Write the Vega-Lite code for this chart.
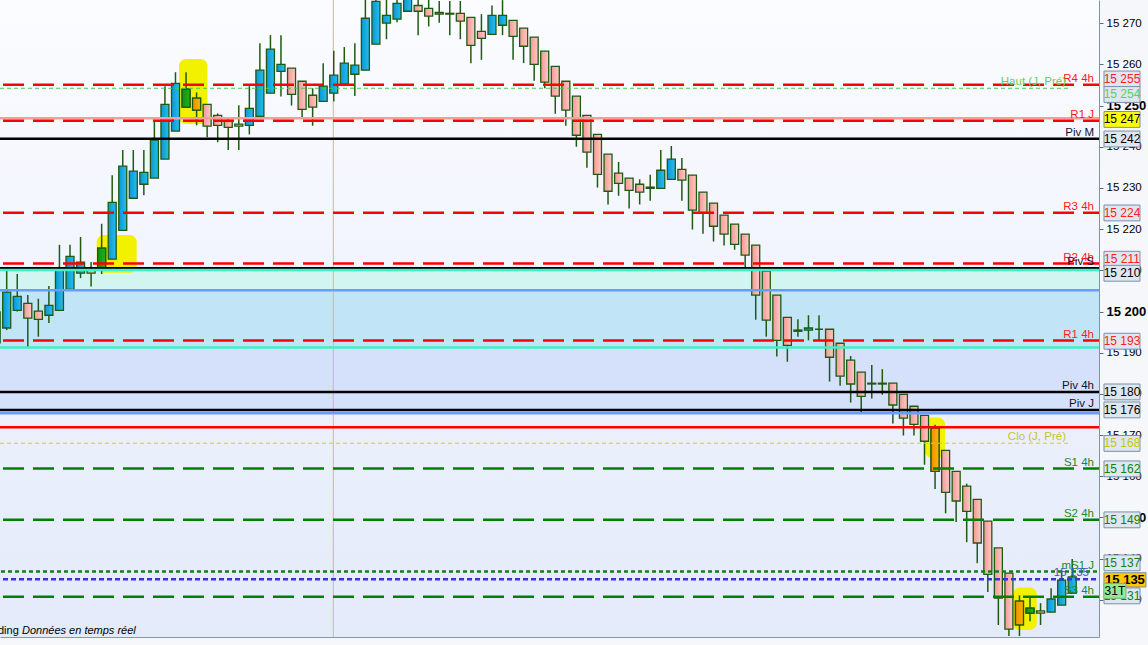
{
  "$schema": "https://vega.github.io/schema/vega-lite/v6.json",
  "description": "Intraday candlestick chart with pivot, resistance and support levels.",
  "width": 1099,
  "height": 637,
  "autosize": "none",
  "padding": {"left": 0, "top": 0, "right": 49, "bottom": 8},
  "background": "#f5f7fb",
  "view": {
    "stroke": null,
    "fill": {"gradient": "linear", "x1": 0, "y1": 0, "x2": 0, "y2": 1,
      "stops": [{"offset": 0, "color": "#fbfcff"}, {"offset": 0.45, "color": "#f1f4fd"}, {"offset": 1, "color": "#e3eafa"}]}
  },
  "config": {
    "font": "Liberation Sans",
    "text": {"font": "Liberation Sans"},
    "axis": {"labelFont": "Liberation Sans"}
  },
  "datasets": {
    "candles": [
      {"i": -1, "o": 15192.4, "h": 15201.6, "l": 15191.2, "c": 15199.9},
      {"i": 0, "o": 15196.0, "h": 15209.9, "l": 15195.5, "c": 15204.7},
      {"i": 1, "o": 15200.3, "h": 15209.1, "l": 15200.0, "c": 15203.7},
      {"i": 2, "o": 15202.0, "h": 15204.0, "l": 15191.2, "c": 15198.4},
      {"i": 3, "o": 15200.1, "h": 15203.1, "l": 15193.9, "c": 15198.1},
      {"i": 4, "o": 15199.1, "h": 15206.2, "l": 15197.2, "c": 15201.5},
      {"i": 5, "o": 15200.3, "h": 15216.2, "l": 15200.1, "c": 15210.5},
      {"i": 6, "o": 15205.4, "h": 15216.2, "l": 15205.4, "c": 15213.4},
      {"i": 7, "o": 15209.3, "h": 15218.1, "l": 15208.1, "c": 15212.0},
      {"i": 8, "o": 15210.5, "h": 15212.0, "l": 15206.1, "c": 15209.3},
      {"i": 9, "o": 15210.3, "h": 15221.3, "l": 15209.1, "c": 15215.4},
      {"i": 10, "o": 15212.7, "h": 15233.1, "l": 15212.7, "c": 15226.5},
      {"i": 11, "o": 15219.7, "h": 15239.2, "l": 15219.7, "c": 15235.3},
      {"i": 12, "o": 15227.5, "h": 15239.2, "l": 15227.5, "c": 15234.1},
      {"i": 13, "o": 15230.9, "h": 15239.2, "l": 15228.2, "c": 15233.8},
      {"i": 14, "o": 15232.4, "h": 15246.0, "l": 15232.4, "c": 15241.6},
      {"i": 15, "o": 15237.0, "h": 15254.7, "l": 15237.0, "c": 15250.3},
      {"i": 16, "o": 15243.8, "h": 15258.1, "l": 15243.8, "c": 15255.4},
      {"i": 17, "o": 15249.6, "h": 15258.1, "l": 15249.6, "c": 15254.0},
      {"i": 18, "o": 15251.8, "h": 15253.2, "l": 15245.2, "c": 15248.9},
      {"i": 19, "o": 15250.3, "h": 15250.3, "l": 15242.3, "c": 15245.0},
      {"i": 20, "o": 15247.6, "h": 15248.1, "l": 15241.1, "c": 15245.2},
      {"i": 21, "o": 15246.4, "h": 15247.2, "l": 15239.2, "c": 15244.7},
      {"i": 22, "o": 15245.5, "h": 15250.1, "l": 15239.2, "c": 15245.0},
      {"i": 23, "o": 15245.2, "h": 15254.7, "l": 15243.0, "c": 15249.3},
      {"i": 24, "o": 15247.4, "h": 15265.1, "l": 15247.4, "c": 15258.6},
      {"i": 25, "o": 15253.0, "h": 15267.1, "l": 15253.0, "c": 15263.7},
      {"i": 26, "o": 15258.3, "h": 15267.1, "l": 15252.2, "c": 15260.0},
      {"i": 27, "o": 15259.1, "h": 15259.1, "l": 15250.0, "c": 15252.7},
      {"i": 28, "o": 15255.9, "h": 15255.9, "l": 15247.1, "c": 15249.1},
      {"i": 29, "o": 15252.5, "h": 15254.2, "l": 15245.1, "c": 15249.6},
      {"i": 30, "o": 15251.0, "h": 15260.3, "l": 15251.0, "c": 15254.7},
      {"i": 31, "o": 15253.0, "h": 15263.3, "l": 15251.0, "c": 15257.4},
      {"i": 32, "o": 15255.2, "h": 15264.2, "l": 15255.2, "c": 15260.3},
      {"i": 33, "o": 15257.6, "h": 15265.1, "l": 15252.3, "c": 15259.8},
      {"i": 34, "o": 15258.6, "h": 15276.5, "l": 15258.6, "c": 15271.2},
      {"i": 35, "o": 15264.9, "h": 15277.0, "l": 15264.9, "c": 15275.3},
      {"i": 36, "o": 15270.0, "h": 15276.5, "l": 15266.1, "c": 15271.9},
      {"i": 37, "o": 15271.0, "h": 15277.0, "l": 15270.2, "c": 15274.8},
      {"i": 38, "o": 15272.9, "h": 15278.0, "l": 15272.9, "c": 15276.1},
      {"i": 39, "o": 15274.3, "h": 15276.5, "l": 15267.1, "c": 15272.9},
      {"i": 40, "o": 15273.6, "h": 15276.0, "l": 15269.2, "c": 15271.7},
      {"i": 41, "o": 15272.6, "h": 15275.4, "l": 15270.1, "c": 15272.2},
      {"i": 42, "o": 15272.4, "h": 15275.4, "l": 15267.1, "c": 15272.2},
      {"i": 43, "o": 15272.4, "h": 15275.4, "l": 15266.1, "c": 15270.5},
      {"i": 44, "o": 15271.4, "h": 15271.4, "l": 15260.3, "c": 15264.6},
      {"i": 45, "o": 15268.0, "h": 15272.2, "l": 15261.1, "c": 15266.3},
      {"i": 46, "o": 15267.3, "h": 15274.3, "l": 15267.3, "c": 15271.9},
      {"i": 47, "o": 15269.5, "h": 15275.6, "l": 15267.1, "c": 15271.9},
      {"i": 48, "o": 15270.7, "h": 15270.7, "l": 15261.1, "c": 15266.8},
      {"i": 49, "o": 15268.8, "h": 15268.8, "l": 15260.3, "c": 15264.4},
      {"i": 50, "o": 15266.6, "h": 15266.6, "l": 15256.0, "c": 15260.0},
      {"i": 51, "o": 15263.2, "h": 15263.2, "l": 15254.2, "c": 15255.7},
      {"i": 52, "o": 15259.5, "h": 15259.5, "l": 15248.0, "c": 15252.3},
      {"i": 53, "o": 15255.9, "h": 15255.9, "l": 15245.1, "c": 15248.9},
      {"i": 54, "o": 15252.3, "h": 15252.3, "l": 15240.0, "c": 15242.8},
      {"i": 55, "o": 15247.6, "h": 15247.6, "l": 15234.9, "c": 15238.7},
      {"i": 56, "o": 15243.0, "h": 15243.0, "l": 15230.1, "c": 15233.3},
      {"i": 57, "o": 15238.2, "h": 15238.2, "l": 15226.0, "c": 15229.2},
      {"i": 58, "o": 15233.6, "h": 15236.3, "l": 15228.1, "c": 15231.1},
      {"i": 59, "o": 15232.4, "h": 15232.4, "l": 15225.0, "c": 15229.4},
      {"i": 60, "o": 15230.9, "h": 15232.1, "l": 15226.0, "c": 15229.0},
      {"i": 61, "o": 15230.2, "h": 15233.2, "l": 15226.9, "c": 15229.9},
      {"i": 62, "o": 15229.9, "h": 15239.2, "l": 15229.9, "c": 15234.3},
      {"i": 63, "o": 15232.1, "h": 15240.2, "l": 15232.1, "c": 15237.0},
      {"i": 64, "o": 15234.5, "h": 15237.3, "l": 15226.9, "c": 15231.9},
      {"i": 65, "o": 15233.1, "h": 15233.1, "l": 15219.9, "c": 15224.6},
      {"i": 66, "o": 15229.0, "h": 15229.0, "l": 15218.9, "c": 15223.9},
      {"i": 67, "o": 15226.3, "h": 15226.3, "l": 15217.0, "c": 15220.7},
      {"i": 68, "o": 15223.4, "h": 15223.4, "l": 15216.0, "c": 15218.8},
      {"i": 69, "o": 15221.2, "h": 15221.2, "l": 15215.0, "c": 15216.3},
      {"i": 70, "o": 15218.8, "h": 15218.8, "l": 15210.2, "c": 15213.7},
      {"i": 71, "o": 15216.1, "h": 15216.1, "l": 15198.0, "c": 15204.0},
      {"i": 72, "o": 15209.8, "h": 15209.8, "l": 15193.9, "c": 15197.9},
      {"i": 73, "o": 15204.0, "h": 15204.0, "l": 15189.1, "c": 15193.0},
      {"i": 74, "o": 15198.6, "h": 15198.6, "l": 15187.8, "c": 15191.8},
      {"i": 75, "o": 15195.5, "h": 15198.1, "l": 15193.9, "c": 15195.2},
      {"i": 76, "o": 15195.5, "h": 15199.1, "l": 15193.0, "c": 15196.0},
      {"i": 77, "o": 15195.7, "h": 15199.1, "l": 15193.0, "c": 15195.7},
      {"i": 78, "o": 15195.7, "h": 15195.7, "l": 15183.0, "c": 15188.9},
      {"i": 79, "o": 15192.3, "h": 15192.3, "l": 15182.0, "c": 15184.3},
      {"i": 80, "o": 15188.2, "h": 15189.2, "l": 15177.9, "c": 15182.4},
      {"i": 81, "o": 15185.3, "h": 15185.3, "l": 15175.3, "c": 15179.4},
      {"i": 82, "o": 15182.6, "h": 15187.0, "l": 15178.9, "c": 15182.4},
      {"i": 83, "o": 15182.6, "h": 15186.0, "l": 15179.8, "c": 15182.4},
      {"i": 84, "o": 15182.6, "h": 15182.6, "l": 15172.8, "c": 15177.3},
      {"i": 85, "o": 15179.9, "h": 15179.9, "l": 15169.9, "c": 15174.1},
      {"i": 86, "o": 15177.0, "h": 15177.0, "l": 15169.9, "c": 15172.6},
      {"i": 87, "o": 15174.8, "h": 15174.8, "l": 15162.8, "c": 15168.5},
      {"i": 88, "o": 15171.7, "h": 15172.5, "l": 15156.9, "c": 15161.2},
      {"i": 89, "o": 15166.3, "h": 15166.3, "l": 15151.0, "c": 15156.1},
      {"i": 90, "o": 15161.2, "h": 15161.2, "l": 15148.9, "c": 15154.0},
      {"i": 91, "o": 15157.6, "h": 15158.2, "l": 15144.0, "c": 15151.5},
      {"i": 92, "o": 15154.4, "h": 15154.4, "l": 15138.9, "c": 15143.8},
      {"i": 93, "o": 15149.1, "h": 15149.1, "l": 15131.9, "c": 15136.2},
      {"i": 94, "o": 15142.6, "h": 15142.6, "l": 15123.9, "c": 15130.4},
      {"i": 95, "o": 15136.5, "h": 15136.5, "l": 15121.2, "c": 15122.9},
      {"i": 96, "o": 15129.7, "h": 15131.1, "l": 15121.2, "c": 15123.9},
      {"i": 97, "o": 15126.8, "h": 15130.7, "l": 15124.8, "c": 15128.0},
      {"i": 98, "o": 15127.3, "h": 15129.2, "l": 15123.9, "c": 15126.8},
      {"i": 99, "o": 15127.0, "h": 15132.8, "l": 15127.0, "c": 15130.2},
      {"i": 100, "o": 15128.7, "h": 15137.2, "l": 15128.7, "c": 15134.8},
      {"i": 101, "o": 15131.6, "h": 15139.9, "l": 15131.6, "c": 15135.6}
    ],
    "levels": [
      {"v": 15255.07, "kind": "R", "label": "R4 4h"},
      {"v": 15254.2, "kind": "Haut", "label": "Haut (J, Pré)"},
      {"v": 15246.92, "kind": "pink", "label": ""},
      {"v": 15246.33, "kind": "R", "label": "R1 J"},
      {"v": 15241.96, "kind": "Piv", "label": "Piv M"},
      {"v": 15224.0, "kind": "R", "label": "R3 4h"},
      {"v": 15211.63, "kind": "R", "label": "R2 4h"},
      {"v": 15210.51, "kind": "Piv", "label": "Piv S"},
      {"v": 15210.1, "kind": "cyan", "label": ""},
      {"v": 15205.17, "kind": "blue", "label": ""},
      {"v": 15192.94, "kind": "R", "label": "R1 4h"},
      {"v": 15191.24, "kind": "cyan", "label": ""},
      {"v": 15180.48, "kind": "Piv", "label": "Piv 4h"},
      {"v": 15176.12, "kind": "Piv", "label": "Piv J"},
      {"v": 15175.31, "kind": "blue", "label": ""},
      {"v": 15171.92, "kind": "thick", "label": ""},
      {"v": 15168.03, "kind": "Clo", "label": "Clo (J, Pré)"},
      {"v": 15161.87, "kind": "S", "label": "S1 4h"},
      {"v": 15149.42, "kind": "S", "label": "S2 4h"},
      {"v": 15136.87, "kind": "mS", "label": "mS1 J"},
      {"v": 15135.02, "kind": "cur", "label": "15 135"},
      {"v": 15130.73, "kind": "S", "label": "S3 4h"}
    ],
    "zones": [
      {"top": 15210.1, "bot": 15205.17, "kind": "teal"},
      {"top": 15205.17, "bot": 15191.24, "kind": "blue"},
      {"top": 15191.24, "bot": 15175.31, "kind": "lav"}
    ],
    "spots": [
      {"a": 16.33, "b": 19.03, "top": 15261.3, "bot": 15245.5},
      {"a": 8.53, "b": 12.32, "top": 15218.6, "bot": 15209.4},
      {"a": 87.04, "b": 88.94, "top": 15174.3, "bot": 15164.5},
      {"a": 95.36, "b": 97.64, "top": 15133.0, "bot": 15122.7}
    ],
    "tags": [
      {"t": "15 255", "at": 15256.46, "kind": "R"},
      {"t": "15 254", "at": 15252.69, "kind": "Haut"},
      {"t": "15 247", "at": 15246.63, "kind": "R1J"},
      {"t": "15 242", "at": 15241.89, "kind": "Piv"},
      {"t": "15 224", "at": 15223.93, "kind": "R"},
      {"t": "15 211", "at": 15212.69, "kind": "R"},
      {"t": "15 210", "at": 15209.29, "kind": "Piv"},
      {"t": "15 193", "at": 15192.79, "kind": "R"},
      {"t": "15 180", "at": 15180.48, "kind": "Piv"},
      {"t": "15 176", "at": 15176.12, "kind": "Piv"},
      {"t": "15 168", "at": 15167.98, "kind": "Clo"},
      {"t": "15 162", "at": 15161.8, "kind": "S"},
      {"t": "15 149", "at": 15149.42, "kind": "S"},
      {"t": "15 137", "at": 15138.98, "kind": "S"},
      {"t": "15 131", "at": 15130.97, "kind": "S"},
      {"t": "15 135", "at": 15134.85, "kind": "cur"},
      {"t": "31T", "at": 15132.18, "kind": "T"}
    ]
  },
  "layer": [
    {
      "data": {"name": "zones"},
      "mark": {"type": "rect"},
      "encoding": {
        "y": {"field": "top", "type": "quantitative",
          "scale": {"domain": [15120.98, 15275.63], "nice": false, "zero": false, "padding": 0},
          "axis": {"orient": "right", "title": null, "grid": false,
            "values": [15130, 15140, 15150, 15160, 15170, 15180, 15190, 15200, 15210, 15220, 15230, 15240, 15250, 15260, 15270],
            "labelExpr": "replace(format(datum.value, ','), ',', ' ')",
            "labelFontSize": {"expr": "datum.value % 50 === 0 ? 13 : 11.5"},
            "labelFontWeight": {"expr": "datum.value % 50 === 0 ? 'bold' : 'normal'"},
            "labelColor": "#000000", "labelPadding": 3, "tickSize": 4,
            "tickColor": "#5a6a7a", "domainColor": "#8094a8", "domainWidth": 1}},
        "y2": {"field": "bot"},
        "fill": {"field": "kind", "type": "nominal", "legend": null,
          "scale": {"domain": ["teal", "blue", "lav"], "range": ["#d3f5f1", "#c1e5f6", "#d5e1fb"]}}
      }
    },
    {
      "data": {"values": [{}]},
      "mark": {"type": "rule", "color": "#f2a4a4", "strokeWidth": 1},
      "encoding": {"x": {"datum": 30.96, "type": "quantitative"}}
    },
    {
      "data": {"name": "spots"},
      "mark": {"type": "rect", "fill": "#f2f200", "cornerRadius": 7, "clip": true},
      "encoding": {
        "x": {"field": "a", "type": "quantitative"},
        "x2": {"field": "b"},
        "y": {"field": "top", "type": "quantitative"},
        "y2": {"field": "bot"}
      }
    },
    {
      "data": {"name": "candles"},
      "mark": {"type": "rule", "color": "#1f5a12", "strokeWidth": 1.5, "clip": true},
      "encoding": {
        "x": {"field": "i", "type": "quantitative",
          "scale": {"domain": [-0.635, 103.54], "nice": false, "zero": false, "padding": 0},
          "axis": {"orient": "bottom", "labels": false, "ticks": false, "title": null, "grid": false, "domainColor": "#8a98a8", "domainWidth": 1}},
        "y": {"field": "l", "type": "quantitative"},
        "y2": {"field": "h"}
      }
    },
    {
      "data": {"name": "candles"},
      "transform": [{"filter": "datum.c >= datum.o"}],
      "mark": {"type": "bar", "width": 8, "stroke": "#1f5a12", "strokeWidth": 1.3, "clip": true,
        "fill": {"gradient": "linear", "x1": 0, "y1": 0, "x2": 1, "y2": 0,
          "stops": [{"offset": 0, "color": "#0a97d1"}, {"offset": 1, "color": "#27bdf0"}]}},
      "encoding": {
        "x": {"field": "i", "type": "quantitative"},
        "y": {"field": "o", "type": "quantitative"},
        "y2": {"field": "c"}
      }
    },
    {
      "data": {"name": "candles"},
      "transform": [{"filter": "datum.c < datum.o"}],
      "mark": {"type": "bar", "width": 8, "stroke": "#1f5a12", "strokeWidth": 1.3, "clip": true,
        "fill": {"gradient": "linear", "x1": 0, "y1": 0, "x2": 1, "y2": 0,
          "stops": [{"offset": 0, "color": "#f39894"}, {"offset": 1, "color": "#ffcac7"}]}},
      "encoding": {
        "x": {"field": "i", "type": "quantitative"},
        "y": {"field": "o", "type": "quantitative"},
        "y2": {"field": "c"}
      }
    },
    {
      "data": {"name": "candles"},
      "transform": [{"filter": "datum.c >= datum.o && indexof([9, 17, 97], datum.i) >= 0"}],
      "mark": {"type": "bar", "width": 8, "stroke": "#1f5a12", "strokeWidth": 1.3, "clip": true,
        "fill": {"gradient": "linear", "x1": 0, "y1": 0, "x2": 1, "y2": 0,
          "stops": [{"offset": 0, "color": "#0c9410"}, {"offset": 1, "color": "#22b020"}]}},
      "encoding": {
        "x": {"field": "i", "type": "quantitative"},
        "y": {"field": "o", "type": "quantitative"},
        "y2": {"field": "c"}
      }
    },
    {
      "data": {"name": "candles"},
      "transform": [{"filter": "datum.c < datum.o && indexof([18, 88, 96], datum.i) >= 0"}],
      "mark": {"type": "bar", "width": 8, "stroke": "#1f5a12", "strokeWidth": 1.3, "clip": true,
        "fill": {"gradient": "linear", "x1": 0, "y1": 0, "x2": 1, "y2": 0,
          "stops": [{"offset": 0, "color": "#f09000"}, {"offset": 1, "color": "#ffb400"}]}},
      "encoding": {
        "x": {"field": "i", "type": "quantitative"},
        "y": {"field": "o", "type": "quantitative"},
        "y2": {"field": "c"}
      }
    },
    {
      "data": {"name": "levels"},
      "transform": [{"filter": "datum.kind !== 'Haut' && datum.kind !== 'Clo'"}],
      "mark": {"type": "rule", "strokeDashOffset": 5},
      "encoding": {
        "y": {"field": "v", "type": "quantitative"},
        "color": {"field": "kind", "type": "nominal", "legend": null,
          "scale": {"domain": ["R", "S", "Piv", "mS", "cur", "pink", "cyan", "blue", "thick"],
            "range": ["#ff0000", "#008000", "#000000", "#108010", "#3535d8", "#ff9a9a", "#3ff0c6", "#6a9cff", "#ff0000"]}},
        "strokeDash": {"field": "kind", "type": "nominal", "legend": null,
          "scale": {"domain": ["R", "S", "Piv", "mS", "cur", "pink", "cyan", "blue", "thick"],
            "range": [[21, 9], [21, 9], [1, 0], [4, 3], [5, 3], [1, 0], [1, 0], [1, 0], [1, 0]]}},
        "strokeWidth": {"field": "kind", "type": "nominal", "legend": null,
          "scale": {"domain": ["R", "S", "Piv", "mS", "cur", "pink", "cyan", "blue", "thick"],
            "range": [2.5, 2.5, 2.3, 1, 1, 1, 1.4, 1.2, 3]}}
      }
    },
    {
      "data": {"name": "levels"},
      "transform": [{"filter": "datum.kind === 'Haut' || datum.kind === 'Clo'"}],
      "mark": {"type": "rule", "strokeWidth": 1, "strokeDash": [4, 3]},
      "encoding": {
        "x": {"datum": -0.635, "type": "quantitative"},
        "x2": {"datum": 100.7},
        "y": {"field": "v", "type": "quantitative"},
        "color": {"field": "kind", "type": "nominal", "legend": null,
          "scale": {"domain": ["Haut", "Clo"], "range": ["#48cc48", "#d0d020"]}}
      }
    },
    {
      "data": {"name": "levels"},
      "transform": [{"filter": "datum.label !== '' && datum.kind !== 'Haut' && datum.kind !== 'Clo' && datum.kind !== 'cur'"}],
      "mark": {"type": "text", "align": "right", "baseline": "alphabetic", "dx": -5, "dy": -3, "fontSize": 11.5},
      "encoding": {
        "x": {"datum": 103.54, "type": "quantitative"},
        "y": {"field": "v", "type": "quantitative"},
        "text": {"field": "label"},
        "color": {"field": "kind", "type": "nominal", "legend": null,
          "scale": {"domain": ["R", "S", "Piv", "mS"], "range": ["#ff1a1a", "#1a8a1a", "#101030", "#1a8a1a"]}}
      }
    },
    {
      "data": {"name": "levels"},
      "transform": [{"filter": "datum.kind === 'Haut' || datum.kind === 'Clo'"}],
      "mark": {"type": "text", "align": "right", "baseline": "alphabetic", "dx": -33, "dy": -3, "fontSize": 11.5},
      "encoding": {
        "x": {"datum": 103.54, "type": "quantitative"},
        "y": {"field": "v", "type": "quantitative"},
        "text": {"field": "label"},
        "color": {"field": "kind", "type": "nominal", "legend": null,
          "scale": {"domain": ["Haut", "Clo"], "range": ["#5ad25a", "#c8c030"]}}
      }
    },
    {
      "data": {"name": "levels"},
      "transform": [{"filter": "datum.kind === 'cur'"}],
      "mark": {"type": "text", "align": "right", "baseline": "alphabetic", "dx": -10, "dy": -3, "fontSize": 11.5, "color": "#4a4ae0"},
      "encoding": {
        "x": {"datum": 103.54, "type": "quantitative"},
        "y": {"field": "v", "type": "quantitative"},
        "text": {"field": "label"}
      }
    },
    {
      "data": {"name": "tags"},
      "transform": [{"filter": "datum.kind !== 'cur' && datum.kind !== 'T'"}],
      "mark": {"type": "point", "filled": true, "shape": "M-1,-0.44L1,-0.44L1,0.44L-1,0.44Z", "size": 1296,
        "stroke": "#7a90a8", "strokeWidth": 1, "opacity": 1},
      "encoding": {
        "x": {"datum": 105.72, "type": "quantitative"},
        "y": {"field": "at", "type": "quantitative"},
        "fill": {"field": "kind", "type": "nominal", "legend": null,
          "scale": {"domain": ["R", "Haut", "R1J", "Piv", "Clo", "S"],
            "range": ["#dfe6f0", "#dfe6f0", "#ffff00", "#dfe6f0", "#dfe6f0", "#dfe6f0"]}}
      }
    },
    {
      "data": {"name": "tags"},
      "transform": [{"filter": "datum.kind !== 'cur' && datum.kind !== 'T'"}],
      "mark": {"type": "text", "align": "center", "baseline": "middle", "fontSize": 12},
      "encoding": {
        "x": {"datum": 105.72, "type": "quantitative"},
        "y": {"field": "at", "type": "quantitative"},
        "text": {"field": "t"},
        "color": {"field": "kind", "type": "nominal", "legend": null,
          "scale": {"domain": ["R", "Haut", "R1J", "Piv", "Clo", "S"],
            "range": ["#ff2020", "#5ccf5c", "#000000", "#000000", "#c8c800", "#108010"]}}
      }
    },
    {
      "data": {"name": "tags"},
      "transform": [{"filter": "datum.kind === 'cur'"}],
      "mark": {"type": "point", "filled": true, "shape": "M-1,-0.34L1,-0.34L1,0.34L-1,0.34Z", "size": 1764,
        "fill": "#ffc800", "stroke": "#7a90a8", "strokeWidth": 1, "opacity": 1},
      "encoding": {
        "x": {"datum": 106.0, "type": "quantitative"},
        "y": {"field": "at", "type": "quantitative"}
      }
    },
    {
      "data": {"name": "tags"},
      "transform": [{"filter": "datum.kind === 'cur'"}],
      "mark": {"type": "text", "align": "center", "baseline": "middle", "fontSize": 13, "fontWeight": "bold", "color": "#000000"},
      "encoding": {
        "x": {"datum": 106.0, "type": "quantitative"},
        "y": {"field": "at", "type": "quantitative"},
        "text": {"field": "t"}
      }
    },
    {
      "data": {"name": "tags"},
      "transform": [{"filter": "datum.kind === 'T'"}],
      "mark": {"type": "point", "filled": true, "shape": "M-1,-0.68L1,-0.68L1,0.68L-1,0.68Z", "size": 484,
        "fill": "#96e896", "stroke": "#78b878", "strokeWidth": 1, "opacity": 1},
      "encoding": {
        "x": {"datum": 105.05, "type": "quantitative"},
        "y": {"field": "at", "type": "quantitative"}
      }
    },
    {
      "data": {"name": "tags"},
      "transform": [{"filter": "datum.kind === 'T'"}],
      "mark": {"type": "text", "align": "center", "baseline": "middle", "fontSize": 12, "color": "#000000"},
      "encoding": {
        "x": {"datum": 105.05, "type": "quantitative"},
        "y": {"field": "at", "type": "quantitative"},
        "text": {"field": "t"}
      }
    },
    {
      "data": {"values": [{}]},
      "mark": {"type": "text", "align": "left", "baseline": "middle", "dx": -2, "fontSize": 11, "color": "#000000", "text": "ding"},
      "encoding": {
        "x": {"datum": -0.635, "type": "quantitative"},
        "y": {"datum": 15122.47, "type": "quantitative"}
      }
    },
    {
      "data": {"values": [{}]},
      "mark": {"type": "text", "align": "left", "baseline": "middle", "dx": 22, "fontSize": 11, "fontStyle": "italic", "color": "#000000", "text": "Données en temps réel"},
      "encoding": {
        "x": {"datum": -0.635, "type": "quantitative"},
        "y": {"datum": 15122.47, "type": "quantitative"}
      }
    }
  ],
  "resolve": {"scale": {"color": "independent", "fill": "independent", "strokeDash": "independent", "strokeWidth": "independent"}}
}
